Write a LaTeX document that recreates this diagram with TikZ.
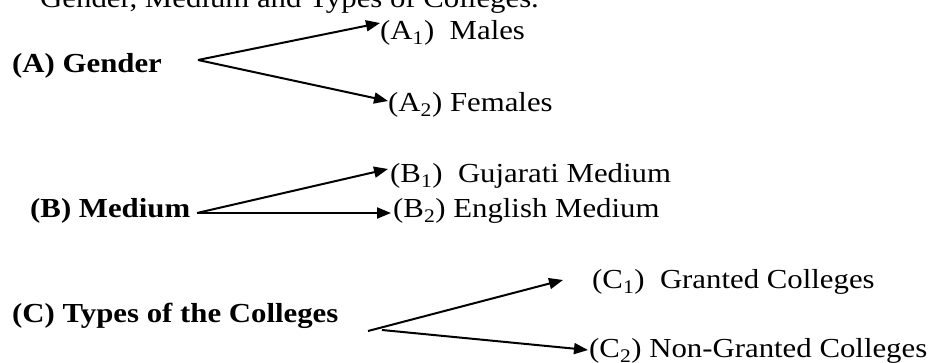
\documentclass[tikz,border=0pt]{standalone}
\usepackage{fontspec}
\setmainfont{Liberation Serif}
\usetikzlibrary{arrows.meta,calc}
\newcommand\wx[1]{\scalebox{1.12}[1]{#1}}
\begin{document}
\begin{tikzpicture}[x=1pt,y=1pt,
  txt/.style={anchor=base west,inner sep=0pt,font=\fontsize{27.5}{33}\selectfont},
  head/.style={txt,font=\fontsize{27.5}{33}\selectfont\bfseries},
  arr/.style={line width=2pt,-{Triangle[length=14pt,width=11pt]}}]
\useasboundingbox (0,0) rectangle (931,363);
% title (cut off at top)
\node[txt] (title) at (40,355) {\wx{Gender, Medium and Types of Colleges.}};
% A
\node[head] (A) at (12,290) {\wx{(A) Gender}};
\node[txt] (A1) at (380,323) {\wx{(A\textsubscript{1})\ \ Males}};
\node[txt] (A2) at (388,251) {\wx{(A\textsubscript{2}) Females}};
\coordinate (apexA) at ($(A.base west)+(186,13)$);
\coordinate (tA1) at ($(A1.base west)+(0,17)$);
\coordinate (tA2) at ($(A2.base west)+(0,11)$);
\draw[arr] (apexA) -- (tA1);
\draw[arr] (apexA) -- (tA2);
% B
\node[head] (B) at (30,145) {\wx{(B) Medium}};
\node[txt] (B1) at (390,180) {\wx{(B\textsubscript{1})\ \ Gujarati Medium}};
\node[txt] (B2) at (393,145) {\wx{(B\textsubscript{2}) English Medium}};
\coordinate (apexB) at ($(B.base west)+(167,5)$);
\coordinate (tB1) at ($(B1.base west)+(-2,14)$);
\coordinate (tB2) at ($(B2.base west)+(-2,5)$);
\draw[arr] (apexB) -- (tB1);
\draw[arr] (apexB) -- (tB2);
% C
\node[head] (C) at (12,40) {\wx{(C) Types of the Colleges}};
\node[txt] (C1) at (592,74) {\wx{(C\textsubscript{1})\ \ Granted Colleges}};
\node[txt] (C2) at (589,5) {\wx{(C\textsubscript{2}) Non-Granted Colleges}};
\coordinate (sC1) at ($(C.base west)+(356,-8)$);
\coordinate (sC2) at ($(C.base west)+(370,-7)$);
\coordinate (tC1) at ($(C1.base west)+(-29,9)$);
\coordinate (tC2) at ($(C2.base west)+(-1,8)$);
\draw[arr] (sC1) -- (tC1);
\draw[arr] (sC2) -- (tC2);
\end{tikzpicture}
\end{document}
